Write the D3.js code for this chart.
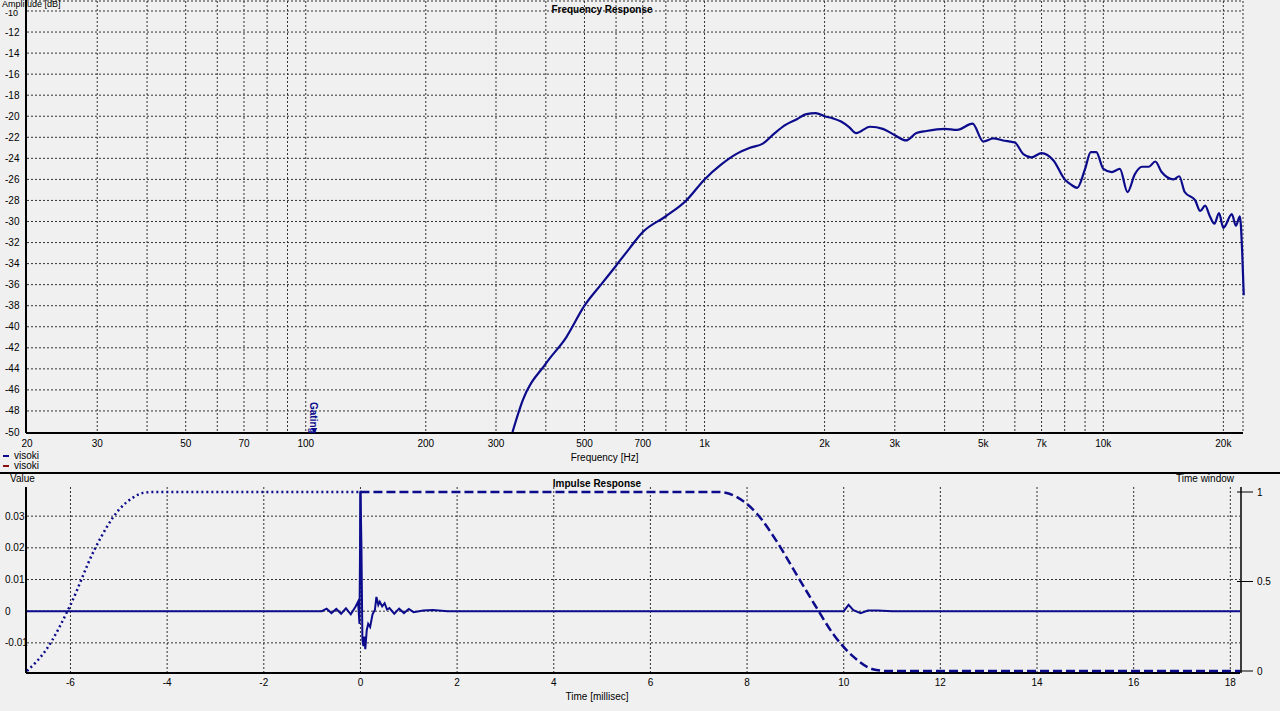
<!DOCTYPE html><html><head><meta charset="utf-8">
<script src="https://cdn.jsdelivr.net/npm/d3@7"></script>
<style>body{margin:0;background:#f0f0f0}svg{display:block}text{font-family:"Liberation Sans",Arial,sans-serif;font-size:10px;fill:#000}</style>
</head><body><svg id="c" width="1280" height="711"></svg>
<script>
const freqHz=[330,350,400,450,500,550,600,650,700,800,900,1000,1100,1200,1300,1400,1500,1600,1700,1800,1900,2000,2100,2200,2300,2400,2600,2800,3000,3200,3400,3600,4000,4300,4700,5000,5300,5600,6000,6300,6600,7000,7500,8000,8300,8600,9000,9300,9600,10000,10500,11000,11500,12000,12500,13000,13500,14000,15000,15500,16000,17000,17500,18000,18500,19000,19500,20000,21000,21500,22000,22300,22500];
const ampDb=[-50,-47,-43.5,-41,-38,-36,-34.2,-32.5,-31,-29.5,-28,-26,-24.6,-23.6,-23,-22.6,-21.6,-20.8,-20.3,-19.8,-19.7,-20,-20.2,-20.5,-21,-21.6,-21,-21.2,-21.8,-22.3,-21.6,-21.4,-21.2,-21.3,-20.7,-22.4,-22.1,-22.3,-22.5,-23.6,-23.9,-23.5,-24.2,-26,-26.5,-26.8,-25,-23.4,-23.4,-25,-25.3,-25,-27.2,-25.5,-24.8,-24.8,-24.3,-25.3,-26,-25.7,-27.2,-28,-29,-28.5,-29.5,-30.2,-29.2,-30.6,-29.3,-30.4,-29.5,-33,-37];
const freqTicks=[20,30,50,70,100,200,300,500,700,1000,2000,3000,5000,7000,10000,20000];
const freqTickLabels=["20","30","50","70","100","200","300","500","700","1k","2k","3k","5k","7k","10k","20k"];
const freqGrid=[30,40,50,60,70,80,90,100,200,300,400,500,600,700,800,900,1000,2000,3000,4000,5000,6000,7000,8000,9000,10000,20000];
const dbTicks=[-50,-48,-46,-44,-42,-40,-38,-36,-34,-32,-30,-28,-26,-24,-22,-20,-18,-16,-14,-12,-10];
const impT=[-6.9,-0.8,-0.7,-0.6,-0.5,-0.4,-0.3,-0.2,-0.1,-0.05,-0.02,0,0.02,0.04,0.06,0.08,0.1,0.13,0.16,0.2,0.25,0.3,0.33,0.37,0.4,0.45,0.5,0.55,0.6,0.7,0.8,0.9,1.0,1.1,1.3,1.5,1.8,2.0,10.0,10.1,10.2,10.35,10.5,10.7,11.0,18.2];
const impV=[0,0,0.0008,-0.0006,0.0007,-0.0008,0.0009,-0.001,0.0015,0.003,-0.004,0.038,0.021,-0.009,-0.011,-0.008,-0.012,-0.006,-0.004,-0.005,-0.001,0.0005,0.0045,0.002,0.003,0.0015,0.0025,0.0005,0.001,-0.0008,0.0008,-0.0006,0.0007,-0.0003,0.0002,0.0004,0,0,0,0.002,0.0003,-0.0006,0.0002,0.0002,0,0];
const winT=[-6.9,-6.5,-6.0,-5.5,-5.0,-4.7,-4.5,-4.3,0];
const winV=[0,0.12,0.37,0.68,0.9,0.97,0.995,1,1];
const win2T=[0,7.4,7.8,8.2,8.6,9.0,9.4,9.8,10.2,10.6,10.9,18.2];
const win2V=[1,1,0.97,0.88,0.73,0.55,0.37,0.2,0.08,0.01,0,0];
const timeTicks=[-6,-4,-2,0,2,4,6,8,10,12,14,16,18];
const valTicks=[-0.01,0,0.01,0.02,0.03];
const col="#0b0b8c";
const svg=d3.select("#c");
svg.append("rect").attr("width",1280).attr("height",711).attr("fill","#f0f0f0");
const x=d3.scaleLog().domain([20,22400]).range([27,1243]);
const y=d3.scaleLinear().domain([-50,-9.05]).range([432,1]);
const g=svg.append("g");
freqGrid.forEach(f=>g.append("line").attr("x1",x(f)).attr("x2",x(f)).attr("y1",y(-9.05)).attr("y2",432).attr("stroke","#333").attr("stroke-dasharray","2,2").attr("stroke-width",1));
dbTicks.forEach(d=>{if(d>-50)g.append("line").attr("x1",27).attr("x2",1243).attr("y1",y(d)).attr("y2",y(d)).attr("stroke","#333").attr("stroke-dasharray","2,2");
 g.append("text").attr("x",5).attr("y",y(d)+(d===-10?5:3.5)).style("font-size",d===-10?"9px":"10px").text(d);});
g.append("line").attr("x1",1243).attr("x2",1243).attr("y1",1).attr("y2",432).attr("stroke","#333").attr("stroke-dasharray","2,2");
g.append("line").attr("x1",27).attr("x2",1243).attr("y1",1).attr("y2",1).attr("stroke","#333").attr("stroke-dasharray","2,2");
g.append("line").attr("x1",26).attr("x2",1243).attr("y1",433).attr("y2",433).attr("stroke","#000").attr("stroke-width",2);
g.append("line").attr("x1",26).attr("x2",26).attr("y1",0).attr("y2",433).attr("stroke","#000").attr("stroke-width",2);
freqTicks.forEach((f,i)=>g.append("text").attr("x",x(f)).attr("y",447).attr("text-anchor","middle").text(freqTickLabels[i]));
g.append("text").attr("x",x(1000)-100).attr("y",461).attr("text-anchor","middle").text("Frequency [Hz]");
g.append("text").attr("x",2).attr("y",7).style("font-size","9px").text("Amplitude [dB]");
g.append("text").attr("x",602).attr("y",13).attr("text-anchor","middle").attr("font-weight","bold").text("Frequency Response");
g.append("path").datum(freqHz.map((f,i)=>[f,ampDb[i]])).attr("fill","none").attr("stroke",col).attr("stroke-width",2.2)
 .attr("d",d3.line().x(d=>x(d[0])).y(d=>y(d[1])).curve(d3.curveMonotoneX));
const gx=x(105);
g.append("text").attr("transform",`translate(${gx-4},402) rotate(90)`).attr("font-weight","bold").style("font-size","10px").style("fill",col).text("Gating");
g.append("path").attr("d",`M${gx-3},428 L${gx+3},428 L${gx},434 Z`).attr("fill",col);
[col,"#8b1010"].forEach((c,i)=>{g.append("rect").attr("x",3).attr("y",455+i*10).attr("width",6).attr("height",2).attr("fill",c);
 g.append("text").attr("x",14).attr("y",459+i*10).text("visoki");});
svg.append("line").attr("x1",0).attr("x2",1280).attr("y1",473).attr("y2",473).attr("stroke","#000").attr("stroke-width",2);
const tx=d3.scaleLinear().domain([-6.9,18.2]).range([27,1240]);
const vy=d3.scaleLinear().domain([-0.0192,0.0392]).range([672,487]);
const wy=d3.scaleLinear().domain([0,1]).range([671,492]);
const b=svg.append("g");
timeTicks.forEach(t=>{b.append("line").attr("x1",tx(t)).attr("x2",tx(t)).attr("y1",487).attr("y2",672).attr("stroke","#333").attr("stroke-dasharray","2,2");
 b.append("text").attr("x",tx(t)).attr("y",686).attr("text-anchor","middle").text(t);});
valTicks.forEach(v=>{b.append("line").attr("x1",27).attr("x2",1240).attr("y1",vy(v)).attr("y2",vy(v)).attr("stroke","#333").attr("stroke-dasharray","2,2");
 b.append("text").attr("x",5).attr("y",vy(v)+3.5).text(v===0?"0":v);});
b.append("line").attr("x1",26).attr("x2",1240).attr("y1",673).attr("y2",673).attr("stroke","#000").attr("stroke-width",2);
b.append("line").attr("x1",26).attr("x2",26).attr("y1",487).attr("y2",673).attr("stroke","#000").attr("stroke-width",2);
b.append("line").attr("x1",1241).attr("x2",1241).attr("y1",487).attr("y2",673).attr("stroke","#000").attr("stroke-width",1.5);
[[1,"1"],[0.5,"0.5"],[0,"0"]].forEach(d=>{b.append("line").attr("x1",1237).attr("x2",1253).attr("y1",wy(d[0])).attr("y2",wy(d[0])).attr("stroke","#000");
 b.append("text").attr("x",1257).attr("y",wy(d[0])+3.5).text(d[1]);});
b.append("text").attr("x",10).attr("y",482).text("Value");
b.append("text").attr("x",1234).attr("y",482).attr("text-anchor","end").text("Time window");
b.append("text").attr("x",597).attr("y",487).attr("text-anchor","middle").attr("font-weight","bold").text("Impulse Response");
b.append("text").attr("x",597).attr("y",700).attr("text-anchor","middle").text("Time [millisec]");
const wl=d3.line().x(d=>tx(d[0])).y(d=>wy(d[1])).curve(d3.curveMonotoneX);
b.append("path").datum(winT.map((t,i)=>[t,winV[i]])).attr("fill","none").attr("stroke",col).attr("stroke-width",2.5).attr("stroke-dasharray","2,3").attr("d",wl);
b.append("path").datum(win2T.map((t,i)=>[t,win2V[i]])).attr("fill","none").attr("stroke",col).attr("stroke-width",2.5).attr("stroke-dasharray","9,4").attr("d",wl);
b.append("line").attr("x1",tx(0)).attr("x2",tx(0)).attr("y1",wy(1)).attr("y2",vy(0.02)).attr("stroke",col).attr("stroke-width",2);
b.append("path").datum(impT.map((t,i)=>[t,impV[i]])).attr("fill","none").attr("stroke",col).attr("stroke-width",2)
 .attr("d",d3.line().x(d=>tx(d[0])).y(d=>vy(d[1])));
</script></body></html>
